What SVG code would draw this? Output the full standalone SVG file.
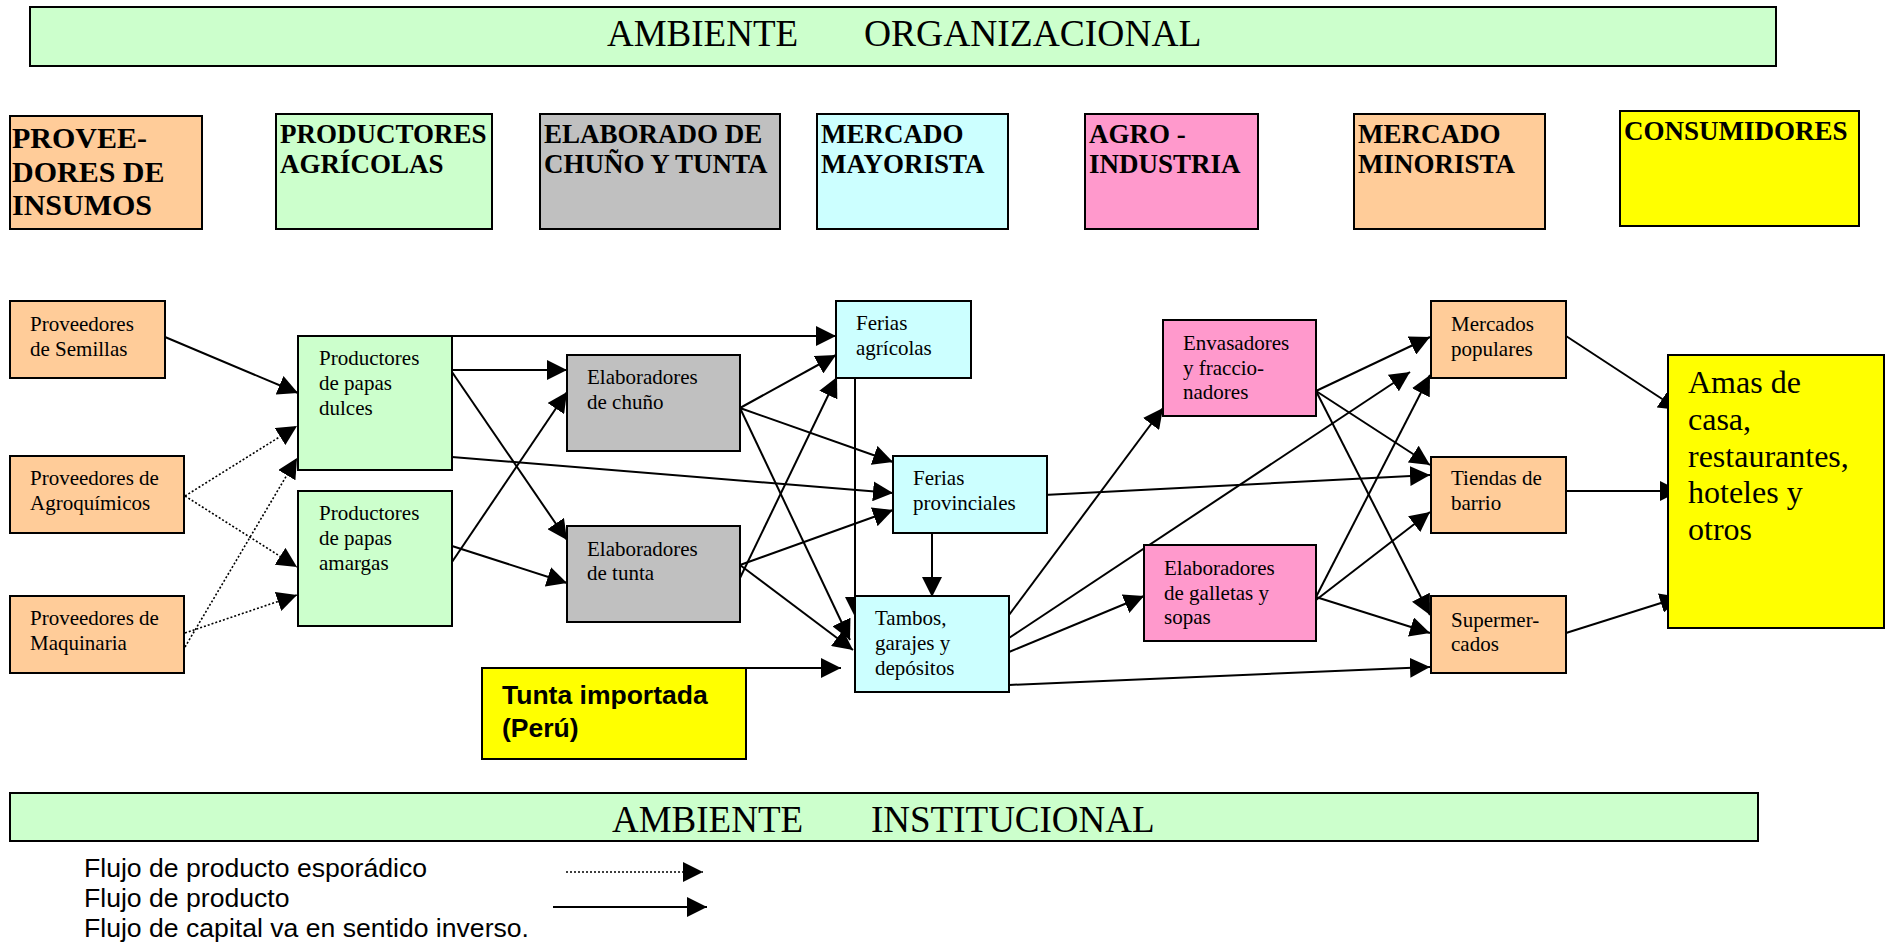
<svg xmlns="http://www.w3.org/2000/svg" width="1887" height="945" viewBox="0 0 1887 945">
<defs>
<marker id="ah" markerUnits="userSpaceOnUse" markerWidth="20" markerHeight="20" refX="20" refY="10" orient="auto">
<path d="M0,0 L20,10 L0,20 z" fill="#000"/>
</marker>
<style>
.bx{stroke:#000;stroke-width:2}
.peach{fill:#FFCC99}.green{fill:#CCFFCC}.gray{fill:#C0C0C0}.cyan{fill:#CCFFFF}.pink{fill:#FF99CC}.yellow{fill:#FFFF00}
.hd{font-family:"Liberation Serif","Times New Roman",serif;font-weight:bold;font-size:27px;fill:#000}
.nt{font-family:"Liberation Serif","Times New Roman",serif;font-size:21px;fill:#000}
.bn{font-family:"Liberation Serif","Times New Roman",serif;font-size:37px;fill:#000}
.lg{font-family:"Liberation Sans",Arial,sans-serif;font-size:26.6px;fill:#000}
.c{stroke:#000;stroke-width:2;fill:none;marker-end:url(#ah)}
.d{stroke:#000;stroke-width:1.6;fill:none;stroke-dasharray:2 2;marker-end:url(#ah)}
</style>
</defs>
<rect width="1887" height="945" fill="#fff"/>

<g id="ambiente-organizacional">
<rect class="bx green" x="30" y="7" width="1746" height="59"/>
<text class="bn" x="607" y="46">AMBIENTE</text>
<text class="bn" x="864" y="46" style="font-size:37.5px">ORGANIZACIONAL</text>
</g>

<g id="h-proveedores">
<rect class="bx peach" x="10" y="116" width="192" height="113"/>
<text class="hd" x="12" y="148" style="font-size:30px">PROVEE-</text>
<text class="hd" x="12" y="182" style="font-size:30px">DORES DE</text>
<text class="hd" x="12" y="215" style="font-size:30px">INSUMOS</text>
</g>
<g id="h-productores">
<rect class="bx green" x="276" y="114" width="216" height="115"/>
<text class="hd" x="280" y="143">PRODUCTORES</text>
<text class="hd" x="280" y="173">AGRÍCOLAS</text>
</g>
<g id="h-elaborado">
<rect class="bx gray" x="540" y="114" width="240" height="115"/>
<text class="hd" x="544" y="143">ELABORADO DE</text>
<text class="hd" x="544" y="173">CHUÑO Y TUNTA</text>
</g>
<g id="h-mayorista">
<rect class="bx cyan" x="817" y="114" width="191" height="115"/>
<text class="hd" x="821" y="143">MERCADO</text>
<text class="hd" x="821" y="173">MAYORISTA</text>
</g>
<g id="h-agroindustria">
<rect class="bx pink" x="1085" y="114" width="173" height="115"/>
<text class="hd" x="1089" y="143">AGRO -</text>
<text class="hd" x="1089" y="173">INDUSTRIA</text>
</g>
<g id="h-minorista">
<rect class="bx peach" x="1354" y="114" width="191" height="115"/>
<text class="hd" x="1358" y="143">MERCADO</text>
<text class="hd" x="1358" y="173">MINORISTA</text>
</g>
<g id="h-consumidores">
<rect class="bx yellow" x="1620" y="111" width="239" height="115"/>
<text class="hd" x="1624" y="140">CONSUMIDORES</text>
</g>

<g id="connectors">
<line class="c" x1="165" y1="337" x2="298" y2="393"/>
<line class="d" x1="185" y1="496" x2="297" y2="426"/>
<line class="d" x1="185" y1="496" x2="297" y2="567"/>
<line class="d" x1="185" y1="647" x2="297" y2="458"/>
<line class="d" x1="185" y1="633" x2="297" y2="595"/>
<line class="c" x1="452" y1="336" x2="836" y2="336"/>
<line class="c" x1="452" y1="370" x2="567" y2="370"/>
<line class="c" x1="452" y1="372" x2="567" y2="540"/>
<line class="c" x1="452" y1="457" x2="893" y2="493"/>
<line class="c" x1="452" y1="562" x2="567" y2="392"/>
<line class="c" x1="452" y1="546" x2="567" y2="583"/>
<line class="c" x1="740" y1="408" x2="836" y2="355"/>
<line class="c" x1="740" y1="408" x2="893" y2="462"/>
<line class="c" x1="740" y1="408" x2="850" y2="640"/>
<line class="c" x1="740" y1="578" x2="837" y2="377"/>
<line class="c" x1="740" y1="565" x2="893" y2="510"/>
<line class="c" x1="740" y1="565" x2="853" y2="650"/>
<line class="c" x1="855" y1="370" x2="855" y2="617"/>
<line class="c" x1="932" y1="527" x2="932" y2="597"/>
<line class="c" x1="746" y1="668" x2="841" y2="668"/>
<line class="c" x1="1044" y1="495" x2="1430" y2="475"/>
<line class="c" x1="1009" y1="615" x2="1163" y2="408"/>
<line class="c" x1="1009" y1="638" x2="1410" y2="372"/>
<line class="c" x1="1009" y1="652" x2="1144" y2="596"/>
<line class="c" x1="1009" y1="685" x2="1430" y2="667"/>
<line class="c" x1="1316" y1="391" x2="1430" y2="337"/>
<line class="c" x1="1316" y1="391" x2="1430" y2="465"/>
<line class="c" x1="1316" y1="391" x2="1430" y2="615"/>
<line class="c" x1="1316" y1="597" x2="1430" y2="375"/>
<line class="c" x1="1316" y1="600" x2="1430" y2="512"/>
<line class="c" x1="1316" y1="597" x2="1430" y2="633"/>
<line class="c" x1="1566" y1="336" x2="1679" y2="410"/>
<line class="c" x1="1566" y1="491" x2="1680" y2="491"/>
<line class="c" x1="1566" y1="633" x2="1680" y2="597"/>
</g>

<g id="n-semillas">
<rect class="bx peach" x="10" y="301" width="155" height="77"/>
<text class="nt" x="30" y="331">Proveedores</text>
<text class="nt" x="30" y="356">de Semillas</text>
</g>
<g id="n-agroquimicos">
<rect class="bx peach" x="10" y="456" width="174" height="77"/>
<text class="nt" x="30" y="485">Proveedores de</text>
<text class="nt" x="30" y="510">Agroquímicos</text>
</g>
<g id="n-maquinaria">
<rect class="bx peach" x="10" y="596" width="174" height="77"/>
<text class="nt" x="30" y="625">Proveedores de</text>
<text class="nt" x="30" y="650">Maquinaria</text>
</g>
<g id="n-papas-dulces">
<rect class="bx green" x="298" y="336" width="154" height="134"/>
<text class="nt" x="319" y="365">Productores</text>
<text class="nt" x="319" y="390">de papas</text>
<text class="nt" x="319" y="415">dulces</text>
</g>
<g id="n-papas-amargas">
<rect class="bx green" x="298" y="491" width="154" height="135"/>
<text class="nt" x="319" y="520">Productores</text>
<text class="nt" x="319" y="545">de papas</text>
<text class="nt" x="319" y="570">amargas</text>
</g>
<g id="n-chuno">
<rect class="bx gray" x="567" y="355" width="173" height="96"/>
<text class="nt" x="587" y="384">Elaboradores</text>
<text class="nt" x="587" y="409">de chuño</text>
</g>
<g id="n-tunta">
<rect class="bx gray" x="567" y="526" width="173" height="96"/>
<text class="nt" x="587" y="556">Elaboradores</text>
<text class="nt" x="587" y="580">de tunta</text>
</g>
<g id="n-ferias-agricolas">
<rect class="bx cyan" x="836" y="301" width="135" height="77"/>
<text class="nt" x="856" y="330">Ferias</text>
<text class="nt" x="856" y="355">agrícolas</text>
</g>
<g id="n-ferias-provinciales">
<rect class="bx cyan" x="893" y="456" width="154" height="77"/>
<text class="nt" x="913" y="485">Ferias</text>
<text class="nt" x="913" y="510">provinciales</text>
</g>
<g id="n-tambos">
<rect class="bx cyan" x="855" y="596" width="154" height="96"/>
<text class="nt" x="875" y="625">Tambos,</text>
<text class="nt" x="875" y="650">garajes y</text>
<text class="nt" x="875" y="675">depósitos</text>
</g>
<g id="n-tunta-importada">
<rect class="bx yellow" x="482" y="668" width="264" height="91"/>
<text x="502" y="704" style="font-family:'Liberation Sans',Arial,sans-serif;font-weight:bold;font-size:26.5px">Tunta importada</text>
<text x="502" y="737" style="font-family:'Liberation Sans',Arial,sans-serif;font-weight:bold;font-size:26.5px">(Perú)</text>
</g>
<g id="n-envasadores">
<rect class="bx pink" x="1163" y="320" width="153" height="96"/>
<text class="nt" x="1183" y="350">Envasadores</text>
<text class="nt" x="1183" y="375">y fraccio-</text>
<text class="nt" x="1183" y="399">nadores</text>
</g>
<g id="n-galletas">
<rect class="bx pink" x="1144" y="545" width="172" height="96"/>
<text class="nt" x="1164" y="575">Elaboradores</text>
<text class="nt" x="1164" y="600">de galletas y</text>
<text class="nt" x="1164" y="624">sopas</text>
</g>
<g id="n-mercados-populares">
<rect class="bx peach" x="1431" y="301" width="135" height="77"/>
<text class="nt" x="1451" y="331">Mercados</text>
<text class="nt" x="1451" y="356">populares</text>
</g>
<g id="n-tiendas">
<rect class="bx peach" x="1431" y="457" width="135" height="76"/>
<text class="nt" x="1451" y="485">Tiendas de</text>
<text class="nt" x="1451" y="510">barrio</text>
</g>
<g id="n-supermercados">
<rect class="bx peach" x="1431" y="596" width="135" height="77"/>
<text class="nt" x="1451" y="627">Supermer-</text>
<text class="nt" x="1451" y="651">cados</text>
</g>
<g id="n-amas">
<rect class="bx yellow" x="1668" y="355" width="216" height="273"/>
<text class="nt" x="1688" y="393" style="font-size:32px">Amas de</text>
<text class="nt" x="1688" y="430" style="font-size:32px">casa,</text>
<text class="nt" x="1688" y="467" style="font-size:32px">restaurantes,</text>
<text class="nt" x="1688" y="503" style="font-size:32px">hoteles y</text>
<text class="nt" x="1688" y="540" style="font-size:32px">otros</text>
</g>

<g id="ambiente-institucional">
<rect class="bx green" x="10" y="793" width="1748" height="48"/>
<text class="bn" x="612" y="832">AMBIENTE</text>
<text class="bn" x="871" y="832">INSTITUCIONAL</text>
</g>

<g id="legend">
<text class="lg" x="84" y="877">Flujo de producto esporádico</text>
<text class="lg" x="84" y="907">Flujo de producto</text>
<text class="lg" x="84" y="937">Flujo de capital va en sentido inverso.</text>
<line class="d" x1="566" y1="872" x2="703" y2="872" style="stroke-width:1.4"/>
<line class="c" x1="553" y1="907" x2="707" y2="907"/>
</g>
</svg>
